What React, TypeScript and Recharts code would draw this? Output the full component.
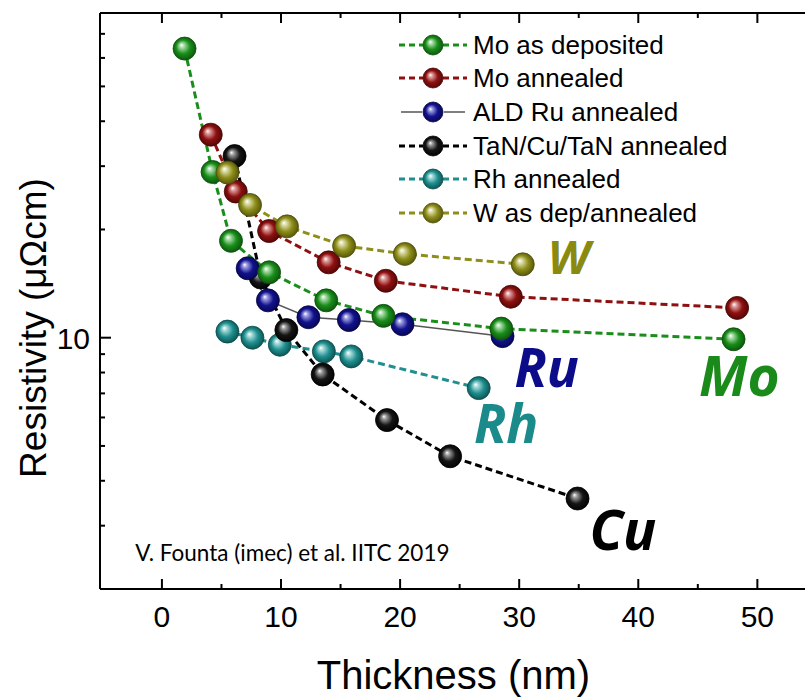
import React from "react";
import { LineChart, Line, XAxis, YAxis, Legend, ReferenceDot } from "recharts";

// thickness (nm) vs resistivity (µΩcm)
const moDeposited = [
  { x: 1.9, y: 63.7 }, { x: 4.25, y: 28.9 }, { x: 5.8, y: 18.6 }, { x: 9.0, y: 15.2 },
  { x: 13.8, y: 12.7 }, { x: 18.6, y: 11.5 }, { x: 28.5, y: 10.6 }, { x: 48.0, y: 9.9 },
];
const moAnnealed = [
  { x: 4.1, y: 36.7 }, { x: 6.2, y: 25.5 }, { x: 9.0, y: 19.8 }, { x: 14.0, y: 16.2 },
  { x: 18.8, y: 14.4 }, { x: 29.3, y: 13.0 }, { x: 48.3, y: 12.1 },
];
const ruAnnealed = [
  { x: 7.2, y: 15.6 }, { x: 8.9, y: 12.7 }, { x: 12.3, y: 11.4 }, { x: 15.7, y: 11.2 },
  { x: 20.2, y: 10.9 }, { x: 28.6, y: 10.1 },
];
const cuAnnealed = [
  { x: 6.1, y: 32.0 }, { x: 8.3, y: 14.7 }, { x: 10.45, y: 10.5 }, { x: 13.5, y: 7.9 },
  { x: 18.9, y: 5.9 }, { x: 24.2, y: 4.68 }, { x: 34.9, y: 3.57 },
];
const rhAnnealed = [
  { x: 5.5, y: 10.4 }, { x: 7.6, y: 10.0 }, { x: 9.9, y: 9.56 }, { x: 13.6, y: 9.16 },
  { x: 15.9, y: 8.87 }, { x: 26.6, y: 7.24 },
];
const wDepAnnealed = [
  { x: 5.5, y: 28.8 }, { x: 7.4, y: 23.4 }, { x: 10.5, y: 20.4 }, { x: 15.3, y: 18.0 },
  { x: 20.4, y: 17.1 }, { x: 30.3, y: 16.0 },
];

const xTicks = [0, 5, 10, 15, 20, 25, 30, 35, 40, 45, 50];
const yTicks = [3, 4, 5, 6, 7, 8, 9, 10, 20, 30, 40, 50, 60, 70];
const yLabelled = [10];

// in-plot labels (text, thickness, resistivity at baseline-left)
const tags = [
  { text: "W", x: 32.4, y: 15.0, color: "#8a8a10", size: 47 },
  { text: "Ru", x: 29.6, y: 7.3, color: "#0c0c8a", size: 53 },
  { text: "Rh", x: 26.2, y: 5.09, color: "#1a8a8a", size: 53 },
  { text: "Mo", x: 45.1, y: 6.89, color: "#1a8a1a", size: 55 },
  { text: "Cu", x: 35.9, y: 2.56, color: "#000000", size: 55 },
];
const credit = { text: "V. Founta (imec) et al. IITC 2019", x: -2.25, y: 2.4 };

const series = [
  { key: "rh", name: "Rh annealed", data: rhAnnealed, color: "#1f8f8f", light: "#a8dada", dark: "#0a4a4a", line: "#1f8f8f", solid: false },
  { key: "cu", name: "TaN/Cu/TaN annealed", data: cuAnnealed, color: "#151515", light: "#9a9a9a", dark: "#000000", line: "#000000", solid: false },
  { key: "ru", name: "ALD Ru annealed", data: ruAnnealed, color: "#12128e", light: "#9a9ae0", dark: "#05054a", line: "#555555", solid: true },
  { key: "moa", name: "Mo annealed", data: moAnnealed, color: "#8e1010", light: "#dd9a9a", dark: "#4a0505", line: "#8e1010", solid: false },
  { key: "mod", name: "Mo as deposited", data: moDeposited, color: "#1a8e1a", light: "#a8dca8", dark: "#0a4e0a", line: "#1a8e1a", solid: false },
  { key: "w", name: "W as dep/annealed", data: wDepAnnealed, color: "#8e8e1a", light: "#dcdca8", dark: "#4e4e0a", line: "#8e8e1a", solid: false },
];
const legendOrder = ["mod", "moa", "ru", "cu", "rh", "w"];

const SANS = "'Liberation Sans', Arial, sans-serif";

function BottomTick(props: any) {
  const { x, y, payload } = props;
  const major = payload.value % 10 === 0;
  return (
    <g>
      <line x1={x} x2={x} y1={y} y2={y - (major ? 10 : 5)} stroke="#000" strokeWidth={2} />
      {major && (
        <text x={x} y={y + 38} textAnchor="middle" fontSize={30} fontFamily={SANS} fill="#000">
          {payload.value}
        </text>
      )}
    </g>
  );
}

function TopTick(props: any) {
  const { x, y, payload } = props;
  const major = payload.value % 10 === 0;
  return <line x1={x} x2={x} y1={y} y2={y + (major ? 10 : 5)} stroke="#000" strokeWidth={2} />;
}

function LeftTick(props: any) {
  const { x, y, payload } = props;
  const major = yLabelled.includes(payload.value);
  return (
    <g>
      <line x1={x} x2={x + (major ? 11 : 5)} y1={y} y2={y} stroke="#000" strokeWidth={2} />
      {major && (
        <text x={x - 10} y={y + 11} textAnchor="end" fontSize={30} fontFamily={SANS} fill="#000">
          {payload.value}
        </text>
      )}
    </g>
  );
}

function LegendBox() {
  return (
    <div style={{ fontFamily: SANS, fontSize: 26, color: "#000" }}>
      {legendOrder.map((k) => {
        const s = series.find((d) => d.key === k)!;
        return (
          <div key={k} style={{ display: "flex", alignItems: "center", height: 33.6, whiteSpace: "nowrap" }}>
            <svg width={72} height={30}>
              {s.solid ? (
                <>
                  <line x1={4} x2={25} y1={15} y2={15} stroke={s.line} strokeWidth={1.5} />
                  <line x1={47} x2={68} y1={15} y2={15} stroke={s.line} strokeWidth={1.5} />
                </>
              ) : (
                <>
                  <line x1={2} x2={26} y1={15} y2={15} stroke={s.line} strokeWidth={3} strokeDasharray="6 4" />
                  <line x1={46} x2={70} y1={15} y2={15} stroke={s.line} strokeWidth={3} strokeDasharray="6 4" />
                </>
              )}
              <circle cx={36} cy={15} r={10} fill={`url(#ball-${k})`} stroke={s.dark} strokeWidth={0.8} />
            </svg>
            <span style={{ marginLeft: 4, lineHeight: "30px" }}>{s.name}</span>
          </div>
        );
      })}
    </div>
  );
}

export default function App() {
  return (
    <div style={{ position: "absolute", left: 0, top: 0, width: 805, height: 699, overflow: "hidden", background: "#fff" }}>
      <LineChart width={805} height={699} margin={{ top: 0, right: 0, bottom: 0, left: 0 }}>
        <defs>
          {series.map((s) => (
            <radialGradient key={s.key} id={`ball-${s.key}`} cx="50%" cy="50%" r="55%" fx="36%" fy="34%">
              <stop offset="0%" stopColor="#ffffff" />
              <stop offset="18%" stopColor={s.light} />
              <stop offset="55%" stopColor={s.color} />
              <stop offset="100%" stopColor={s.dark} />
            </radialGradient>
          ))}
        </defs>
        <XAxis
          xAxisId="bottom"
          type="number"
          dataKey="x"
          domain={[-5.2, 54]}
          allowDataOverflow
          ticks={xTicks}
          interval={0}
          height={110}
          tickSize={0}
          tickMargin={0}
          tickLine={false}
          tick={<BottomTick />}
          axisLine={{ stroke: "#000", strokeWidth: 2 }}
          label={{
            content: (p: any) => (
              <text
                x={p.viewBox.x + p.viewBox.width / 2 + 1}
                y={p.viewBox.y + 100}
                textAnchor="middle"
                fontSize={40}
                fontFamily={SANS}
                fill="#000"
              >
                Thickness (nm)
              </text>
            ),
          }}
        />
        <XAxis
          xAxisId="top"
          orientation="top"
          type="number"
          dataKey="x"
          domain={[-5.2, 54]}
          allowDataOverflow
          ticks={xTicks}
          interval={0}
          height={13}
          tickSize={0}
          tickMargin={0}
          tickLine={false}
          tick={<TopTick />}
          axisLine={{ stroke: "#000", strokeWidth: 2 }}
        />
        <YAxis
          type="number"
          dataKey="y"
          scale="log"
          domain={[2, 80]}
          allowDataOverflow
          ticks={yTicks}
          interval={0}
          width={100}
          tickSize={0}
          tickMargin={0}
          tickLine={false}
          tick={<LeftTick />}
          axisLine={{ stroke: "#000", strokeWidth: 2 }}
          label={{
            content: () => (
              <text
                transform="translate(46,328) rotate(-90)"
                textAnchor="middle"
                fontSize={37}
                fontFamily={SANS}
                fill="#000"
              >
                Resistivity (μΩcm)
              </text>
            ),
          }}
        />
        <Legend
          layout="horizontal"
          verticalAlign="middle"
          align="center"
          wrapperStyle={{ left: 397, top: 28, width: "auto", height: "auto" }}
          content={() => <LegendBox />}
        />
        {series.map((s) => (
          <Line
            key={s.key}
            xAxisId="bottom"
            data={s.data}
            dataKey="y"
            name={s.name}
            type="linear"
            stroke={s.line}
            strokeWidth={s.solid ? 1.5 : 3}
            strokeDasharray={s.solid ? undefined : "7 4"}
            isAnimationActive={false}
            activeDot={false}
            dot={(p: any) => (
              <circle
                key={`${s.key}-${p.index}`}
                cx={p.cx}
                cy={p.cy}
                r={11.5}
                fill={`url(#ball-${s.key})`}
                stroke={s.dark}
                strokeWidth={0.8}
              />
            )}
          />
        ))}
        {tags.map((t) => (
          <ReferenceDot
            key={t.text}
            xAxisId="bottom"
            x={t.x}
            y={t.y}
            r={0}
            shape={(p: any) => (
              <text
                x={p.cx}
                y={p.cy}
                fontSize={t.size}
                fontWeight={700}
                fontStyle="italic"
                fontFamily="'Open Sans', Lato, sans-serif"
                fill={t.color}
              >
                {t.text}
              </text>
            )}
          />
        ))}
        <ReferenceDot
          xAxisId="bottom"
          x={credit.x}
          y={credit.y}
          r={0}
          shape={(p: any) => (
            <text x={p.cx} y={p.cy} fontSize={22.5} fontFamily="Lato, 'Open Sans', sans-serif" fill="#000">
              {credit.text}
            </text>
          )}
        />
      </LineChart>
    </div>
  );
}
